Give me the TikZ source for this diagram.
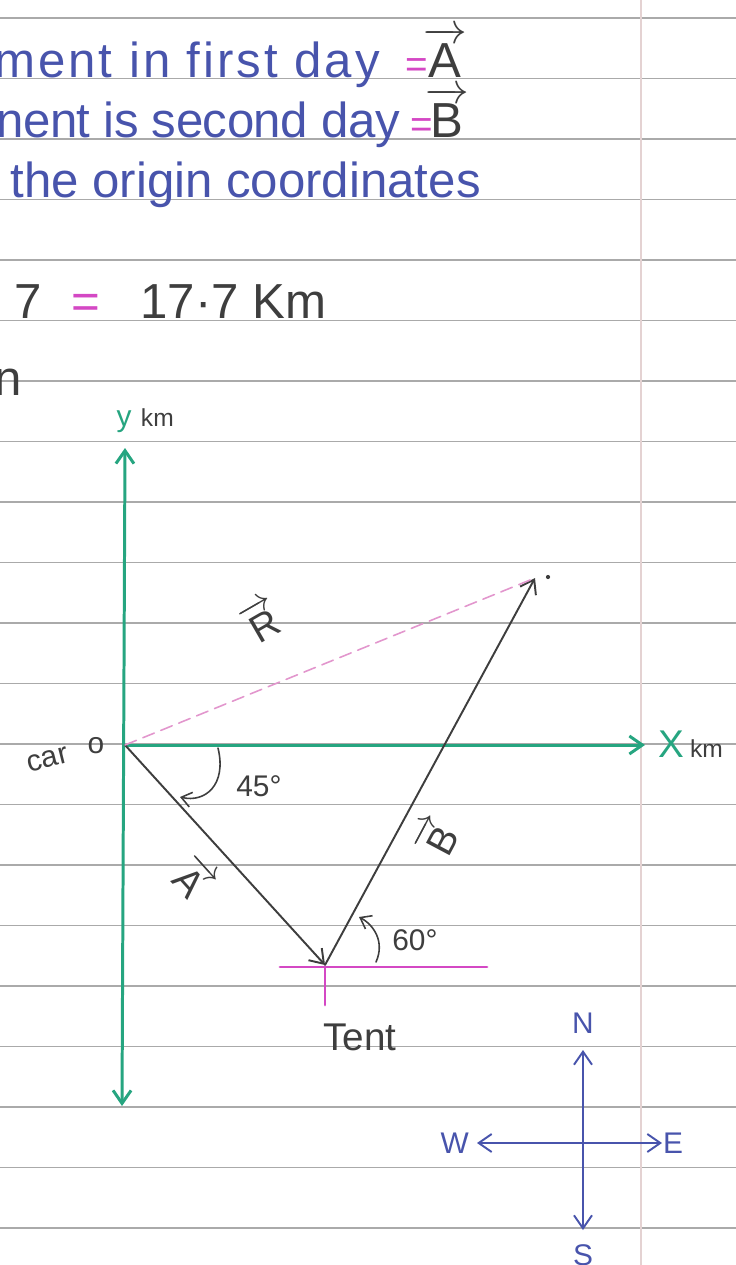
\documentclass[tikz,border=0pt]{standalone}
\usepackage{amsmath}
\usepackage{fontspec}
\setmainfont{Liberation Sans}
\usetikzlibrary{arrows.meta,calc,positioning}
\definecolor{ink}{RGB}{72,84,172}
\definecolor{axisgreen}{RGB}{38,165,128}
\definecolor{pinkink}{RGB}{212,72,196}
\definecolor{pinkdash}{RGB}{226,150,205}
\definecolor{pencil}{RGB}{62,62,62}
\definecolor{rulegray}{RGB}{170,170,170}
\definecolor{margin}{RGB}{228,210,210}

\begin{document}
\begin{tikzpicture}[x=0.02cm, y=-0.02cm, line cap=round,
    >={Straight Barb[length=2.6mm, width=3.6mm]},
    hand/.style={font=\fontsize{28}{32}\selectfont, inner sep=0pt},
    mid/.style={font=\fontsize{22}{26}\selectfont, inner sep=0pt},
    small/.style={font=\fontsize{17}{20}\selectfont, inner sep=0pt},
    tiny/.style={font=\fontsize{14}{16}\selectfont, inner sep=0pt},
    axis/.style={axisgreen, line width=1.7pt},
    vec/.style={pencil, line width=1.1pt},
    turn/.style={pencil, line width=0.9pt, >={Straight Barb[length=2mm, width=3mm]}},
    compass/.style={ink, line width=1.1pt}]
  \useasboundingbox (0,0) rectangle (736,1265);
  \clip (0,0) rectangle (736,1265);

  % notebook ruling
  \foreach \k in {0,...,20}
    \draw[rulegray, line width=0.8pt] (0,18+60.5*\k) -- (736,18+60.5*\k);
  \draw[margin, line width=0.8pt] (641,0) -- (641,1265);

  % notes above the figure, cut at the left edge
  \node[hand, ink, anchor=base west] (day1) at (-6,77)
    {\addfontfeature{LetterSpace=6}ment in first day};
  \node[mid, pinkink, anchor=base] (eq1) at (417,77) {=};
  \node[hand, pencil, anchor=base] (vecA) at (445,77) {$\overrightarrow{\text{A}}$};
  \node[hand, ink, anchor=base west] (day2) at (-4,137)
    {\addfontfeature{LetterSpace=-1}nent is second day};
  \node[mid, pinkink, anchor=base] (eq2) at (422,137) {=};
  \node[hand, pencil, anchor=base] (vecB) at (447,137) {$\overrightarrow{\text{B}}$};
  \node[hand, ink, anchor=base west] (origin) at (10,197) {the origin coordinates};
  \node[hand, pencil, anchor=base west] (mag) at (14,318)
    {7\hspace{0.6cm}{\color{pinkink}=}\hspace{0.8cm}17·7 Km};
  \node[hand, pencil, anchor=base west] (cut) at (-6,395) {n};

  % axes
  \coordinate (O) at (125,745);
  \coordinate (ytop) at (125,448);
  \coordinate (ybot) at (122,1106);
  \coordinate (xend) at (645,745);
  \draw[axis, <->] (ybot) -- (ytop);
  \draw[axis, ->] (O) -- (xend);
  \node[small, axisgreen, anchor=base] (ylbl) at (124,426) {y};
  \node[tiny, pencil, anchor=base west] (ykm) at ([xshift=5pt]ylbl.base east) {km};
  \node[mid, axisgreen, anchor=base west] (xlbl) at (658,757) {X};
  \node[tiny, pencil, anchor=base west] (xkm) at ([xshift=3pt]xlbl.base east) {km};
  \node[small, pencil, anchor=base east, rotate=14] (car) at (70,762) {car};
  \node[small, pencil] (ocirc) at (96,746) {o};

  % displacements: A to the tent, B from the tent, R resultant
  \coordinate (T) at (325,965);
  \coordinate (P) at (535,578);
  \draw[vec, ->] (O) -- (T);
  \draw[vec, ->] (T) -- (P);
  \draw[pinkdash, line width=0.9pt, dash pattern=on 7pt off 4pt] (O) -- (P);
  \fill[pencil] (548,577) circle (1.2pt);
  \node[mid, pencil, rotate=-48] (labA) at (194,878) {$\overrightarrow{\text{A}}$};
  \node[mid, pencil, rotate=62] (labB) at (437,838) {$\overrightarrow{\text{B}}$};
  \node[mid, pencil, rotate=30] (labR) at (262,620) {$\overrightarrow{\text{R}}$};

  % angles
  \draw[turn, ->] (218,748) .. controls (227,785) and (205,803) .. (180,797);
  \node[small, pencil, anchor=west] (a45) at (236,786) {45°};
  \draw[turn, ->] (376,962) .. controls (385,942) and (374,925) .. (359,917);
  \node[small, pencil, anchor=west] (a60) at (392,940) {60°};

  % tent
  \draw[pinkink, line width=1.6pt] (280,967) -- (487,967);
  \draw[pinkink, line width=1.6pt] (325,967) -- (325,1005);
  \node[mid, pencil, anchor=base] (tent) at (360,1050) {Tent};

  % compass
  \coordinate (C) at (583,1143);
  \node[small, ink, anchor=south, inner sep=9pt] (N) at (583,1050) {N};
  \node[small, ink, anchor=north, inner sep=8pt] (S) at (583,1230) {S};
  \node[small, ink, anchor=east, inner sep=4.5pt] (W) at (477,1143) {W};
  \node[small, ink, anchor=west, inner sep=0.5pt] (E) at (662,1143) {E};
  \draw[compass, ->] (C) -- (N);
  \draw[compass, ->] (C) -- (S);
  \draw[compass, ->] (C) -- (W);
  \draw[compass, ->] (C) -- (E);
\end{tikzpicture}
\end{document}
